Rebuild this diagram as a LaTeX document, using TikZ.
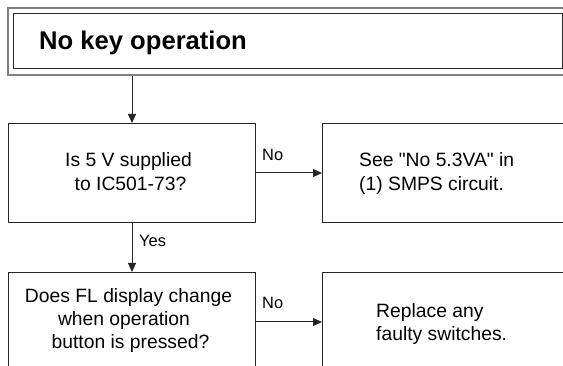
\documentclass[tikz,border=0pt]{standalone}
\usepackage{fontspec}
\setmainfont{Liberation Sans}[Ligatures=TeXOff]
\usetikzlibrary{arrows.meta}
\begin{document}
\begin{tikzpicture}[x=1pt,y=-1pt,
  box/.style={draw=black!85, line width=1pt, minimum width=247pt, minimum height=99pt,
              inner sep=0pt, anchor=north west},
  outerframe/.style={draw=black!50, line width=1.6pt, minimum width=572pt, minimum height=67pt,
              inner sep=0pt, anchor=north west},
  innerframe/.style={draw=black!85, line width=1pt, minimum width=549pt, minimum height=55pt,
              inner sep=0pt, anchor=north west},
  ctext/.style={font=\fontsize{19.3}{23.5}\selectfont, inner sep=0pt, anchor=base},
  ltext/.style={font=\fontsize{19.3}{23.5}\selectfont, inner sep=0pt, anchor=base west},
  lbl/.style={font=\fontsize{16.4}{18}\selectfont, inner sep=0pt, anchor=base west},
  flow/.style={draw=black!85, line width=1pt, -{Triangle[length=9pt,width=8pt]}}]
\useasboundingbox (0,0) rectangle (563,366);
\begin{scope}
\clip (0,0) rectangle (563,366);

% title with double frame
\node[outerframe] (frame) at (7,7) {};
\node[innerframe] (title) at (13,13) {};
\node[font=\fontsize{25.6}{28}\selectfont\bfseries, inner sep=0pt, anchor=base west]
  (titletext) at (39,50) {No key operation};

% flow boxes
\node[box] (q1) at (8,123) {};
\node[box] (a1) at (322,123) {};
\node[box] (q2) at (8,272) {};
\node[box] (a2) at (322,272) {};

% box texts
\node[ctext] (q1l1) at (128.5,167) {Is 5 V supplied};
\node[ctext] (q1l2) at (130.5,191) {to IC501-73?};
\node[ltext] (a1l1) at (359,167) {See "No 5.3VA" in};
\node[ltext] (a1l2) at (359,191) {(1) SMPS circuit.};
\node[ctext] (q2l1) at (128.5,303) {Does FL display change};
\node[ctext] (q2l2) at (124,326) {when operation};
\node[ctext] (q2l3) at (130.5,349) {button is pressed?};
\node[ltext] (a2l1) at (376,318) {Replace any};
\node[ltext] (a2l2) at (376,341) {faulty switches.};

% connectors
\draw[flow] (q1.north |- frame.south) -- (q1.north);
\draw[flow] (q1.east) -- (a1.west);
\draw[flow] (q1.south) -- (q2.north);
\draw[flow] (q2.east) -- (a2.west);

% branch labels
\node[lbl] (no1) at (262,161) {No};
\node[lbl] (yes1) at (139,247) {Yes};
\node[lbl] (no2) at (262,309) {No};
\end{scope}
\end{tikzpicture}
\end{document}
